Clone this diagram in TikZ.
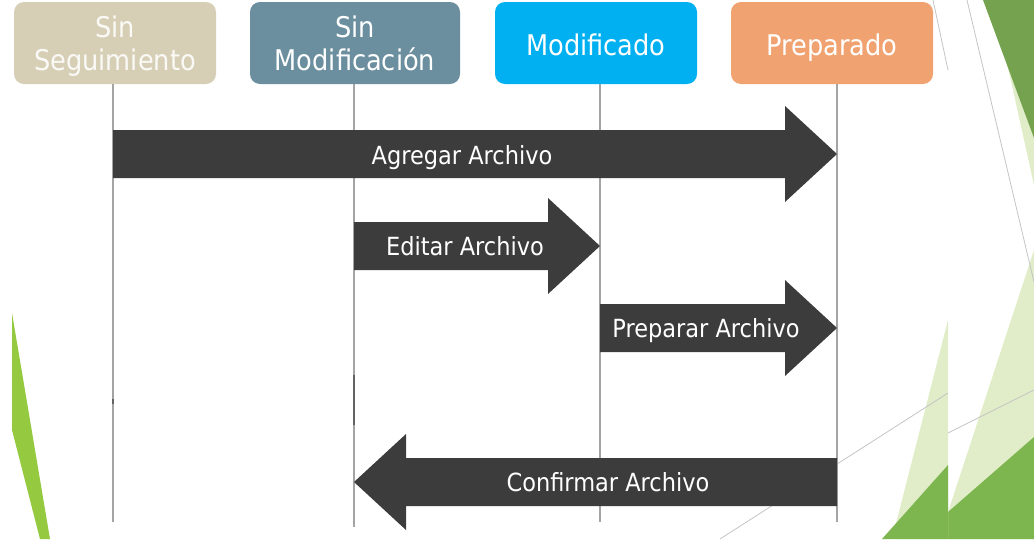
\documentclass[tikz,border=0pt]{standalone}
\usepackage{fontspec}
\setmainfont{DejaVu Sans Condensed}
\usetikzlibrary{calc}
\definecolor{segcol}{HTML}{D6CFB6}
\definecolor{sincol}{HTML}{6C8FA0}
\definecolor{modcol}{HTML}{00B0F0}
\definecolor{prepcol}{HTML}{F0A371}
\definecolor{arrcol}{HTML}{3C3C3C}
\definecolor{lifecol}{HTML}{A4A4A4}
\definecolor{leafdark}{HTML}{74A24E}
\definecolor{leafmid}{HTML}{7DB54F}
\definecolor{leaflight}{HTML}{E1EDC8}
\definecolor{leafleft}{HTML}{94C940}
\definecolor{thinline}{HTML}{C4C4C4}
% block arrow from one lifeline to another: tail, tip, y, head length (signed)
\newcommand{\blockarrow}[4]{%
  \fill[arrowfill] (#1 |- 0,#3-24) -- ($(#2 |- 0,#3-24)-(#4,0)$) -- ++(0,-24)
    -- (#2 |- 0,#3) -- ($(#2 |- 0,#3+48)-(#4,0)$) -- ++(0,-24)
    -- (#1 |- 0,#3+24) -- cycle;}
\begin{document}
\begin{tikzpicture}[x=1pt,y=-1pt,
  hdr/.style={rounded corners=10pt,minimum width=202pt,minimum height=82pt,
    inner sep=0pt,align=center,text=white,font=\fontsize{28.5}{33}\selectfont,
    text height=24pt,text depth=0pt},
  hdrtwo/.style={hdr,text height=54pt,text depth=0pt},
  life/.style={draw=lifecol,line width=1.2pt},
  arrowfill/.style={fill=arrcol},
  arrlbl/.style={inner sep=0pt,text=white,font=\fontsize{25}{29}\selectfont,
    text height=18pt,text depth=0pt},
  edge/.style={draw=thinline,line width=0.8pt}]
\useasboundingbox (0,0) rectangle (1034,539);
% slide background
\fill[leaflight] (993,0) -- (1034,0) -- (1034,185) -- cycle;
\fill[leafdark] (983,0) -- (1034,0) -- (1034,138) -- cycle;
\fill[leaflight] (1034,250) -- (948,512) -- (948,539) -- (1034,539) -- cycle;
\fill[leafmid] (948,512) -- (1034,437) -- (1034,539) -- (948,539) -- cycle;
\fill[leaflight] (948,320) -- (892,539) -- (948,539) -- cycle;
\fill[leafmid] (882,539) -- (948,465) -- (948,539) -- cycle;
\fill[leafleft] (12,313) -- (50,539) -- (40,539) -- (12,430) -- cycle;
\draw[edge] (967,0) -- (1034,282);
\draw[edge] (933,0) -- (948,70);
\draw[edge] (720,539) -- (948,393);
\draw[edge] (948,433) -- (1034,390);
% states
\node[hdrtwo,fill=segcol,text=white!88!segcol] (seg) at (115,43) {Sin\\Seguimiento};
\node[hdrtwo,fill=sincol,minimum width=210pt] (sinmod) at (355,43) {Sin\\Modificación};
\node[hdr,fill=modcol] (mod) at (596,43) {Modificado};
\node[hdr,fill=prepcol] (prep) at (832,43) {Preparado};
% lifelines
\coordinate (l1) at (113,84);
\coordinate (l2) at (354,84);
\coordinate (l3) at (600,84);
\coordinate (l4) at (837,84);
\coordinate (e1) at (113,522);
\coordinate (e2) at (354,527);
\coordinate (e3) at (600,522);
\coordinate (e4) at (837,522);
\draw[life] (l1) -- (e1);
\draw[life] (l2) -- (e2);
\draw[life] (l3) -- (e3);
\draw[life] (l4) -- (e4);
\draw[line width=2pt,arrcol!80] (354,375) -- (354,425);
\draw[line width=2pt,arrcol!80] (113,399) -- (113,404);
% transitions
\blockarrow{l1}{l4}{154}{52}
\blockarrow{l2}{l3}{246}{52}
\blockarrow{l3}{l4}{328}{52}
\blockarrow{l4}{l2}{482}{-52}
\node[arrlbl] (agregar) at (462,155) {Agregar Archivo};
\node[arrlbl] (editar) at (465,246) {Editar Archivo};
\node[arrlbl] (preparar) at (706,328) {Preparar Archivo};
\node[arrlbl] (confirmar) at (608,482) {Confirmar Archivo};
\end{tikzpicture}
\end{document}
